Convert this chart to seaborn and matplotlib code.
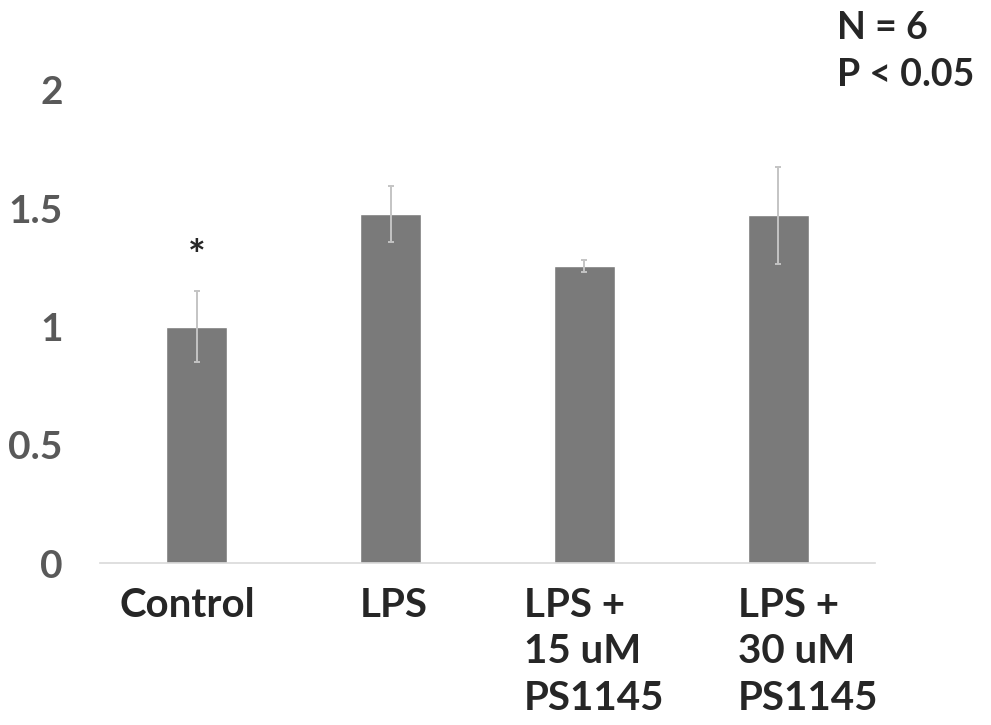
import matplotlib
matplotlib.use('Agg')
import matplotlib.pyplot as plt
import matplotlib.transforms as mtrans
import seaborn as sns
import pandas as pd

categories = ['Control', 'LPS', 'LPS +\n15 uM\nPS1145', 'LPS +\n30 uM\nPS1145']
means = [1.0, 1.476, 1.255, 1.47]
errors = [0.15, 0.117, 0.025, 0.205]

df = pd.DataFrame({'group': categories, 'value': means})

sns.set_style('white')
plt.rcParams['font.family'] = ['Lato', 'DejaVu Sans']

fig = plt.figure(figsize=(9.91, 7.25), dpi=100)
ax = fig.add_axes([0.101, 0.2234, 0.782, 0.6525])

sns.barplot(data=df, x='group', y='value', color='#7a7a7a', saturation=1,
            width=0.315, errorbar=None, ax=ax)
ax.errorbar(range(len(categories)), means, yerr=errors, fmt='none',
            ecolor='#c4c4c4', elinewidth=1.4, capsize=2.5, capthick=1.4, zorder=3)

ax.set_xlim(-0.5, 3.5)
ax.set_ylim(0, 2)
ax.set_yticks([0, 0.5, 1, 1.5, 2])
ax.set_yticklabels(['0', '0.5', '1', '1.5', '2'])
ax.set_xlabel('')
ax.set_ylabel('')
sns.despine(ax=ax, left=True, top=True, right=True)
ax.spines['bottom'].set_color('#d9d9d9')
ax.spines['bottom'].set_linewidth(1.2)
ax.tick_params(axis='y', length=0, pad=27, labelsize=28, labelcolor='#595959')
ax.tick_params(axis='x', length=0, pad=17, labelsize=29)
for lab in ax.get_yticklabels():
    lab.set_fontweight('bold')

# horizontal nudge (pixels) of each category label, as laid out in the original
label_shift = [-10, 3, 10, 30]
for lab, dx in zip(ax.get_xticklabels(), label_shift):
    lab.set_fontweight('bold')
    lab.set_verticalalignment('top')
    lab.set_multialignment('left')
    lab.set_linespacing(1.32)
    offset = mtrans.ScaledTranslation(dx / 100, 0, fig.dpi_scale_trans)
    lab.set_transform(lab.get_transform() + offset)

ax.text(0, 1.29, '*', ha='center', va='center', fontsize=30, fontweight='bold')

fig.text(0.845, 0.962, 'N = 6', fontsize=27, fontweight='bold', va='center', ha='left')
fig.text(0.845, 0.897, 'P < 0.05', fontsize=27, fontweight='bold', va='center', ha='left')

fig.savefig('out.png', dpi=100)
